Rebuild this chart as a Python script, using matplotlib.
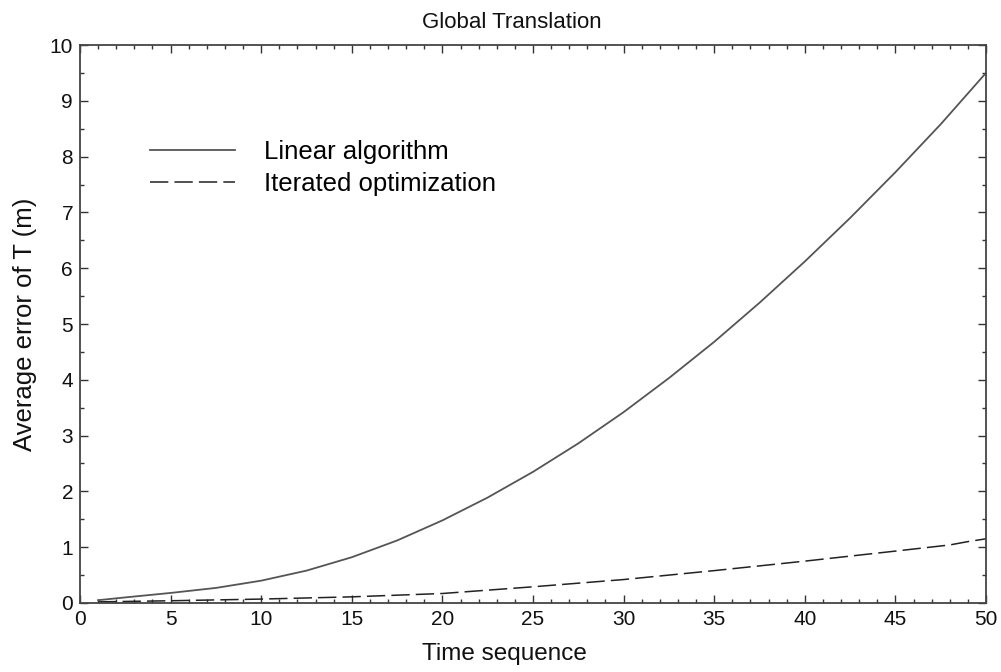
import matplotlib
matplotlib.use("Agg")
import matplotlib.pyplot as plt
from matplotlib.ticker import MultipleLocator

plt.rcParams['font.family'] = ['Liberation Sans', 'DejaVu Sans']

# Data
linear_x = [1, 2.5, 5, 7.5, 10, 12.5, 15, 17.5, 20, 22.5, 25, 27.5, 30, 32.5, 35,
            37.5, 40, 42.5, 45, 47.5, 50]
linear_y = [0.05, 0.10, 0.18, 0.27, 0.40, 0.58, 0.82, 1.12, 1.48, 1.89, 2.35, 2.86,
            3.42, 4.03, 4.68, 5.38, 6.12, 6.90, 7.72, 8.58, 9.50]

iter_x = [1, 5, 10, 15, 20, 25, 30, 35, 40, 45, 48, 49, 50]
iter_y = [0.02, 0.04, 0.07, 0.11, 0.17, 0.29, 0.42, 0.58, 0.75, 0.93, 1.04, 1.10, 1.15]

labels = ["Linear algorithm", "Iterated optimization"]

fig = plt.figure(figsize=(10.01, 6.72), dpi=100)
ax = fig.add_axes([0.0799, 0.1027, 0.9051, 0.8303])

ax.plot(linear_x, linear_y, color='#555555', lw=1.3, label=labels[0])
ax.plot(iter_x, iter_y, color='#222222', lw=1.1, ls=(0, (12, 4)), label=labels[1])

ax.set_xlim(0, 50)
ax.set_ylim(0, 10)
ax.xaxis.set_major_locator(MultipleLocator(5))
ax.xaxis.set_minor_locator(MultipleLocator(1))
ax.yaxis.set_major_locator(MultipleLocator(1))
ax.yaxis.set_minor_locator(MultipleLocator(0.5))
ax.tick_params(which='both', direction='in', top=True, right=True, colors='#333333',
               labelcolor='#111111', labelsize=15, width=1)
ax.tick_params(which='major', length=6, pad=5)
ax.tick_params(which='minor', length=3)
for s in ax.spines.values():
    s.set_color('#444444')
    s.set_linewidth(1.3)

ax.set_xlabel("Time sequence", fontsize=17.5, labelpad=7, color='#111111')
ax.xaxis.set_label_coords(0.469, -0.072)
ax.set_ylabel("Average error of T (m)", fontsize=18.5, labelpad=9, color='#111111')
ax.set_title("Global Translation", fontsize=16, pad=12, color='#111111', x=0.477)

ax.legend(loc='upper left', bbox_to_anchor=(0.077, 0.83), frameon=False,
          borderpad=0, borderaxespad=0,
          fontsize=18.5, handlelength=3.3, handletextpad=1.15, labelspacing=0.3)

fig.savefig("out.png", dpi=100)
